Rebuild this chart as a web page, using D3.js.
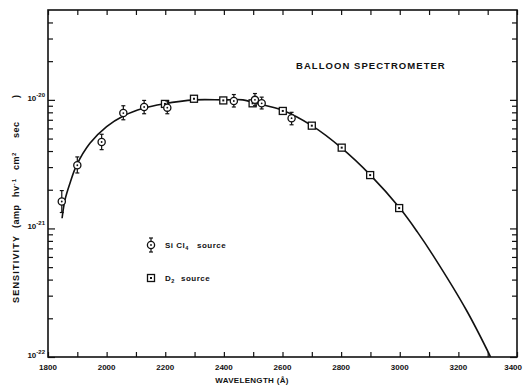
<!DOCTYPE html>
<html>
<head>
<meta charset="utf-8">
<script src="https://cdn.jsdelivr.net/npm/d3@7"></script>
<style>
body { margin: 0; background: #fff; }
svg { display: block; }
text { font-family: "Liberation Sans", Arial, sans-serif; font-weight: bold; fill: #111; }
</style>
</head>
<body>
<script>
// wavelength (A) and sensitivity readings, SiCl4 source with error bars
var siWave = [1847, 1900, 1983, 2057, 2128, 2207, 2434, 2506, 2529, 2631];
var siSens = [1.62e-21, 3.1e-21, 4.7e-21, 7.9e-21, 8.8e-21, 8.7e-21, 9.8e-21, 1.0e-20, 9.4e-21, 7.2e-21];
var siHi   = [1.97e-21, 3.6e-21, 5.4e-21, 9.0e-21, 9.9e-21, 9.8e-21, 1.1e-20, 1.12e-20, 1.05e-20, 8.0e-21];
var siLo   = [1.33e-21, 2.7e-21, 4.1e-21, 7.0e-21, 7.8e-21, 7.8e-21, 8.8e-21, 9.0e-21, 8.5e-21, 6.4e-21];

// D2 source
var dWave = [2199, 2298, 2398, 2498, 2601, 2700, 2802, 2899, 2998];
var dSens = [9.3e-21, 1.02e-20, 9.9e-21, 9.4e-21, 8.2e-21, 6.3e-21, 4.25e-21, 2.6e-21, 1.44e-21];

// fitted curve
var curveWave = [1848, 1858, 1875, 1898, 1943, 2000, 2057, 2125, 2193, 2300, 2400, 2465, 2510, 2600, 2700, 2800, 2900, 3000, 3060, 3113, 3228, 3310];
var curveSens = [1.2e-21, 1.67e-21, 2.25e-21, 3.12e-21, 4.6e-21, 6.2e-21, 7.5e-21, 8.6e-21, 9.3e-21, 1.0e-20, 1.0e-20, 1.0e-20, 9.4e-21, 8.3e-21, 6.3e-21, 4.25e-21, 2.6e-21, 1.44e-21, 9.4e-22, 6.2e-22, 2.3e-22, 1.0e-22];

var xTicks = d3.range(1800, 3401, 100);
var xLabels = [1800, 2000, 2200, 2400, 2600, 2800, 3000, 3200, 3400];
var yMajor = [1e-22, 1e-21, 1e-20];
var yMajorLabels = ["-22", "-21", "-20"];
var yMinor = [2e-22, 3e-22, 4e-22, 5e-22, 6e-22, 7e-22, 8e-22, 9e-22,
              2e-21, 3e-21, 4e-21, 5e-21, 6e-21, 7e-21, 8e-21, 9e-21,
              2e-20, 3e-20, 4e-20];

var width = 524, height = 388;
var margin = {top: 10, right: 7, bottom: 31, left: 48};

var x = d3.scaleLinear()
        .domain([1800, 3400])
        .range([margin.left, width - margin.right]);

var y = d3.scaleLog()
        .domain([1e-22, 5e-20])
        .range([height - margin.bottom, margin.top]);

var svg = d3.select("body").append("svg")
        .attr("width", width)
        .attr("height", height);

var x0 = x.range()[0], x1 = x.range()[1],
    yB = y.range()[0], yT = y.range()[1];

// ticks on all four sides, pointing in
function tickStyle(g) {
    g.select(".domain").remove();
    g.selectAll(".tick line").attr("stroke", "#111").attr("stroke-width", 1.2);
    g.selectAll(".tick text").remove();
}
svg.append("g")
        .attr("transform", "translate(0," + yB + ")")
        .call(d3.axisBottom(x).tickValues(xTicks).tickSize(-5))
        .call(tickStyle);
svg.append("g")
        .attr("transform", "translate(0," + yT + ")")
        .call(d3.axisTop(x).tickValues(xTicks).tickSize(-5))
        .call(tickStyle);
svg.append("g")
        .attr("transform", "translate(" + x0 + ",0)")
        .call(d3.axisLeft(y).tickValues(yMajor).tickSize(-7))
        .call(tickStyle);
svg.append("g")
        .attr("transform", "translate(" + x0 + ",0)")
        .call(d3.axisLeft(y).tickValues(yMinor).tickSize(-5))
        .call(tickStyle);
svg.append("g")
        .attr("transform", "translate(" + x1 + ",0)")
        .call(d3.axisRight(y).tickValues(yMajor).tickSize(-7))
        .call(tickStyle);
svg.append("g")
        .attr("transform", "translate(" + x1 + ",0)")
        .call(d3.axisRight(y).tickValues(yMinor).tickSize(-5))
        .call(tickStyle);

// frame
svg.append("rect")
        .attr("x", x0).attr("y", yT)
        .attr("width", x1 - x0).attr("height", yB - yT)
        .attr("fill", "none")
        .attr("stroke", "#111")
        .attr("stroke-width", 1.6);

// x tick labels (last one pulled in so it stays on the page)
svg.append("g").selectAll("text")
        .data(xLabels)
    .enter().append("text")
        .attr("x", function(d, i) { return i == xLabels.length - 1 ? x(d) + 5 : x(d); })
        .attr("y", yB + 13)
        .attr("text-anchor", function(d, i) { return i == xLabels.length - 1 ? "end" : "middle"; })
        .style("font-size", "8px")
        .text(function(d) { return d; });

// y tick labels 10^n
var yl = svg.append("g").selectAll("text")
        .data(yMajor)
    .enter().append("text")
        .attr("x", x0 - 3)
        .attr("y", function(d) { return y(d) + 1; })
        .attr("text-anchor", "end")
        .style("font-size", "8px");
yl.append("tspan").text("10");
yl.append("tspan")
        .attr("dy", -4)
        .style("font-size", "6px")
        .text(function(d, i) { return yMajorLabels[i]; });

// axis titles
svg.append("text")
        .attr("x", 252)
        .attr("y", 383)
        .attr("text-anchor", "middle")
        .style("font-size", "8px")
        .style("letter-spacing", "0.3px")
        .text("WAVELENGTH (\u00c5)");

var ylab = svg.append("text")
        .attr("transform", "translate(19,303) rotate(-90)")
        .style("font-size", "9px")
        .style("letter-spacing", "1.2px");
ylab.append("tspan").attr("x", 0).text("SENSITIVITY");
ylab.append("tspan").attr("x", 75).style("letter-spacing", "0.5px").text("(amp");
ylab.append("tspan").attr("x", 106).style("letter-spacing", "0.5px").text("hv");
ylab.append("tspan").attr("dy", -3).style("font-size", "6px").text("-1");
ylab.append("tspan").attr("x", 133).attr("dy", 3).style("letter-spacing", "0.5px").text("cm");
ylab.append("tspan").attr("dy", -3).style("font-size", "6px").text("2");
ylab.append("tspan").attr("x", 165).attr("dy", 3).style("letter-spacing", "0.5px").text("sec");
ylab.append("tspan").attr("x", 205).text(")");

svg.append("text")
        .attr("x", 296)
        .attr("y", 69)
        .style("font-size", "9.5px")
        .style("letter-spacing", "1.05px")
        .text("BALLOON SPECTROMETER");

// fitted curve
var line = d3.line()
        .x(function(d, i) { return x(curveWave[i]); })
        .y(function(d) { return y(d); })
        .curve(d3.curveCatmullRom.alpha(0.5));

svg.append("path")
        .datum(curveSens)
        .attr("d", line)
        .attr("fill", "none")
        .attr("stroke", "#111")
        .attr("stroke-width", 1.6);

// markers
function drawSi(g, cx, cy, top, bot) {
    g.append("line").attr("x1", cx).attr("x2", cx).attr("y1", top).attr("y2", bot)
        .attr("stroke", "#111").attr("stroke-width", 1.2);
    [top, bot].forEach(function(v) {
        g.append("line").attr("x1", cx - 2).attr("x2", cx + 2).attr("y1", v).attr("y2", v)
            .attr("stroke", "#111").attr("stroke-width", 1.2);
    });
    g.append("circle").attr("cx", cx).attr("cy", cy).attr("r", 3.6)
        .attr("fill", "#fff").attr("stroke", "#111").attr("stroke-width", 1.3);
    g.append("circle").attr("cx", cx).attr("cy", cy).attr("r", 0.9).attr("fill", "#111");
}
function drawD2(g, cx, cy) {
    g.append("rect").attr("x", cx - 3.5).attr("y", cy - 3.5).attr("width", 7).attr("height", 7)
        .attr("fill", "#fff").attr("stroke", "#111").attr("stroke-width", 1.3);
    g.append("rect").attr("x", cx - 1).attr("y", cy - 1).attr("width", 2).attr("height", 2).attr("fill", "#111");
}

var marks = svg.append("g");
dWave.forEach(function(w, i) { drawD2(marks, x(w), y(dSens[i])); });
siWave.forEach(function(w, i) { drawSi(marks, x(w), y(siSens[i]), y(siHi[i]), y(siLo[i])); });

// legend
var leg = svg.append("g");
drawSi(leg, 151, 245, 238, 252);
drawD2(leg, 151, 278);
var t1 = leg.append("text").attr("x", 165).attr("y", 248)
        .style("font-size", "8px").style("letter-spacing", "0.5px");
t1.append("tspan").text("Si Cl");
t1.append("tspan").attr("dy", 2).style("font-size", "5.5px").text("4");
t1.append("tspan").attr("dy", -2).attr("x", 197).text("source");
var t2 = leg.append("text").attr("x", 165).attr("y", 281)
        .style("font-size", "8px").style("letter-spacing", "0.5px");
t2.append("tspan").text("D");
t2.append("tspan").attr("dy", 2).style("font-size", "5.5px").text("2");
t2.append("tspan").attr("dy", -2).attr("x", 181).text("source");
</script>
</body>
</html>
